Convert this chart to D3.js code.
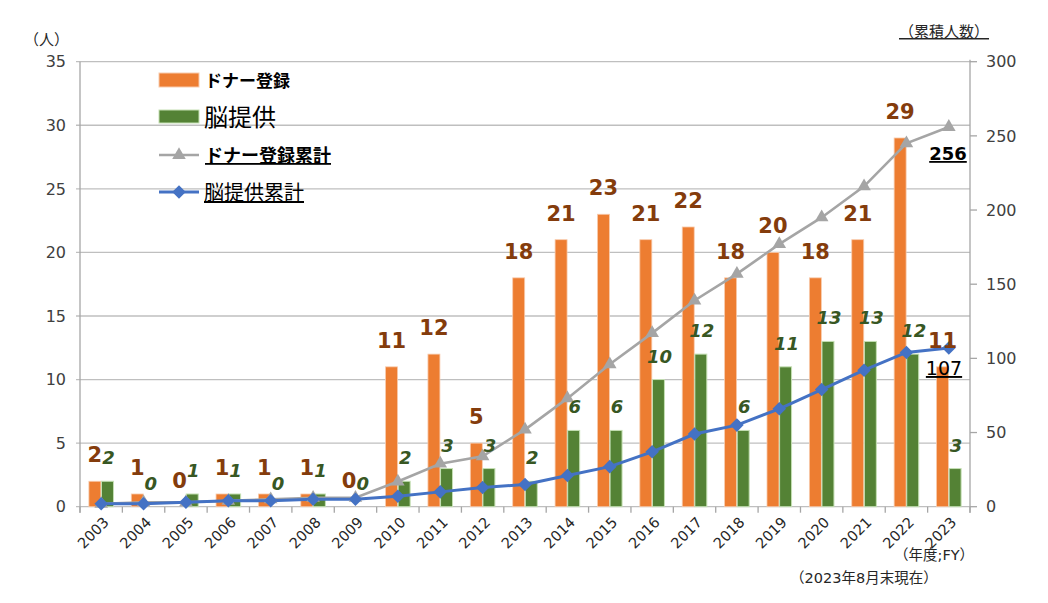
<!DOCTYPE html>
<html><head><meta charset="utf-8">
<script src="https://cdn.jsdelivr.net/npm/d3@7"></script>
<style>
html,body{margin:0;padding:0;background:#fff;}
svg{display:block;font-family:"DejaVu Sans","Noto Sans CJK JP",sans-serif;}
</style></head>
<body>
<svg id="chart" width="1048" height="603"></svg>
<script>
const years = ["2003","2004","2005","2006","2007","2008","2009","2010","2011","2012","2013","2014","2015","2016","2017","2018","2019","2020","2021","2022","2023"];
const donors = [2,1,0,1,1,1,0,11,12,5,18,21,23,21,22,18,20,18,21,29,11];
const brains = [2,0,1,1,0,1,0,2,3,3,2,6,6,10,12,6,11,13,13,12,3];
const donorCum = [2,3,3,4,5,6,6,17,29,34,52,73,96,117,139,157,177,195,216,245,256];
const brainCum = [2,2,3,4,4,5,5,7,10,13,15,21,27,37,49,55,66,79,92,104,107];
const leftTicks = [0,5,10,15,20,25,30,35];
const rightTicks = [0,50,100,150,200,250,300];
const seriesNames = ["ドナー登録","脳提供","ドナー登録累計","脳提供累計"];

const svg = d3.select("#chart");
const L = 80, R = 970, T = 61.7, B = 506.7;
const gridC = "#BFBFBF", axisC = "#A6A6A6";
const orange = "#ED7D31", green = "#548235", grey = "#A5A5A5", blue = "#4472C4";

const x0 = d3.scaleBand().domain(years).range([L, R]).paddingInner(0.42).paddingOuter(0.21);
const x1 = d3.scaleBand().domain(["d","b"]).range([0, x0.bandwidth()]).paddingInner(0.05);
const yL = d3.scaleLinear().domain([0,35]).range([B, T]);
const yR = d3.scaleLinear().domain([0,300]).range([B, T]);
const cx = y => x0(y) + x0.bandwidth()/2;

// gridlines
svg.append("g").selectAll("line").data(leftTicks).join("line")
  .attr("x1", L-4).attr("x2", R).attr("y1", d=>yL(d)).attr("y2", d=>yL(d))
  .attr("stroke", gridC).attr("stroke-width", 1.3);

// left axis labels
svg.append("g").selectAll("text").data(leftTicks).join("text")
  .attr("x", 66).attr("y", d=>yL(d)).attr("dy","0.36em").attr("text-anchor","end")
  .attr("font-size", 16).attr("fill","#404040").text(d=>d);

svg.append("line").attr("x1",L).attr("x2",L).attr("y1",T).attr("y2",B+6).attr("stroke",axisC).attr("stroke-width",1.3);
svg.append("line").attr("x1",R).attr("x2",R).attr("y1",T-2).attr("y2",B+6).attr("stroke",axisC).attr("stroke-width",1.3);
svg.append("g").selectAll("line").data(rightTicks).join("line")
  .attr("x1", R).attr("x2", R+7).attr("y1", d=>yR(d)).attr("y2", d=>yR(d))
  .attr("stroke", axisC).attr("stroke-width", 1.3);
svg.append("g").selectAll("text").data(rightTicks).join("text")
  .attr("x", 986).attr("y", d=>yR(d)).attr("dy","0.36em").attr("text-anchor","start")
  .attr("font-size", 16).attr("fill","#404040").text(d=>d);

// x axis ticks at category boundaries
const bounds = years.map(y => x0(y) - x0.step()*x0.paddingInner()/2).concat([R]);
svg.append("g").selectAll("line").data(bounds).join("line")
  .attr("x1", d=>d).attr("x2", d=>d).attr("y1", B).attr("y2", B+6)
  .attr("stroke", axisC).attr("stroke-width", 1.3);

// x labels
svg.append("g").selectAll("text").data(years).join("text")
  .attr("transform", d=>`translate(${cx(d)+5},${B+13}) rotate(-45)`)
  .attr("text-anchor","end").attr("dy","0.35em")
  .attr("font-size", 14.5).attr("fill","#262626").text(d=>d);

// bars
const g = svg.append("g");
g.selectAll("rect.d").data(years).join("rect").attr("class","d")
  .attr("x", (y)=>x0(y)+x1("d")).attr("width", x1.bandwidth())
  .attr("y", (y,i)=>yL(donors[i])).attr("height",(y,i)=>B-yL(donors[i]))
  .attr("fill", orange).attr("stroke","#F8CBAD").attr("stroke-width",0.8);
g.selectAll("rect.b").data(years).join("rect").attr("class","b")
  .attr("x", (y)=>x0(y)+x1("b")).attr("width", x1.bandwidth())
  .attr("y", (y,i)=>yL(brains[i])).attr("height",(y,i)=>B-yL(brains[i]))
  .attr("fill", green).attr("stroke","#C5E0B4").attr("stroke-width",1);

// lines
const lineD = d3.line().x((d,i)=>cx(years[i])).y(d=>yR(d));
svg.append("path").attr("d", lineD(donorCum)).attr("fill","none").attr("stroke",grey).attr("stroke-width",2.6);
svg.append("path").attr("d", lineD(brainCum)).attr("fill","none").attr("stroke",blue).attr("stroke-width",3);

const tri = d3.symbol().type(d3.symbolTriangle).size(80);
const sq = d3.symbol().type(d3.symbolSquare).size(92);
svg.append("g").selectAll("path").data(donorCum).join("path")
  .attr("transform",(d,i)=>`translate(${cx(years[i])},${yR(d)})`).attr("d", tri()).attr("fill",grey);
svg.append("g").selectAll("path").data(brainCum).join("path")
  .attr("transform",(d,i)=>`translate(${cx(years[i])},${yR(d)}) rotate(45)`).attr("d", sq()).attr("fill",blue);

// data labels
svg.append("g").selectAll("text").data(donors).join("text")
  .attr("x",(d,i)=>x0(years[i])+x1("d")+x1.bandwidth()/2).attr("y",d=>yL(d)-19)
  .attr("text-anchor","middle").attr("font-size",21).attr("font-weight","bold").attr("fill","#843C0C").text(d=>d);
svg.append("g").selectAll("text").data(brains).join("text")
  .attr("x",(d,i)=>x0(years[i])+x1("b")+x1.bandwidth()/2+1).attr("y",d=>yL(d)-17)
  .attr("text-anchor","middle").attr("font-size",18).attr("font-weight","bold").attr("font-style","italic").attr("fill","#385723").text(d=>d);

// cumulative end labels
const last = years.length-1;
svg.append("text").attr("x", 948).attr("y", 160).attr("text-anchor","middle")
  .attr("font-size",18).attr("font-weight","bold").attr("fill","#000").attr("text-decoration","underline").text(donorCum[last]);
svg.append("text").attr("x", 944).attr("y", 375).attr("text-anchor","middle")
  .attr("font-size",19).attr("fill","#000").attr("text-decoration","underline").text(brainCum[last]);

// legend
const lg = svg.append("g");
lg.append("rect").attr("x",159).attr("y",73).attr("width",40).attr("height",14).attr("fill",orange).attr("stroke","#F8CBAD");
lg.append("text").attr("x",205).attr("y",87).attr("font-size",17).attr("font-weight","bold").attr("fill","#000").text(seriesNames[0]);
lg.append("rect").attr("x",159).attr("y",110).attr("width",40).attr("height",13).attr("fill",green).attr("stroke","#C5E0B4");
lg.append("text").attr("x",204).attr("y",126).attr("font-size",24).attr("fill","#000").text(seriesNames[1]);
lg.append("line").attr("x1",159).attr("x2",199).attr("y1",155).attr("y2",155).attr("stroke",grey).attr("stroke-width",2.6);
lg.append("path").attr("transform","translate(179,155)").attr("d",tri()).attr("fill",grey);
lg.append("text").attr("x",205).attr("y",162).attr("font-size",18).attr("font-weight","bold").attr("fill","#000").attr("text-decoration","underline").text(seriesNames[2]);
lg.append("line").attr("x1",159).attr("x2",199).attr("y1",192).attr("y2",192).attr("stroke",blue).attr("stroke-width",3);
lg.append("path").attr("transform","translate(179,192) rotate(45)").attr("d",sq()).attr("fill",blue);
lg.append("text").attr("x",204).attr("y",200).attr("font-size",20).attr("fill","#000").attr("text-decoration","underline").text(seriesNames[3]);

// axis titles / notes
svg.append("text").attr("x",24).attr("y",45).attr("font-size",15).attr("fill","#262626").text("（人）");
svg.append("text").attr("x",899).attr("y",37).attr("font-size",15).attr("fill","#262626").attr("text-decoration","underline").text("（累積人数）");
svg.append("text").attr("x",894).attr("y",560).attr("font-size",14.5).attr("fill","#262626").text("（年度;FY）");
svg.append("text").attr("x",790).attr("y",583).attr("font-size",14.5).attr("fill","#262626").text("（2023年8月末現在）");
</script>
</body></html>
